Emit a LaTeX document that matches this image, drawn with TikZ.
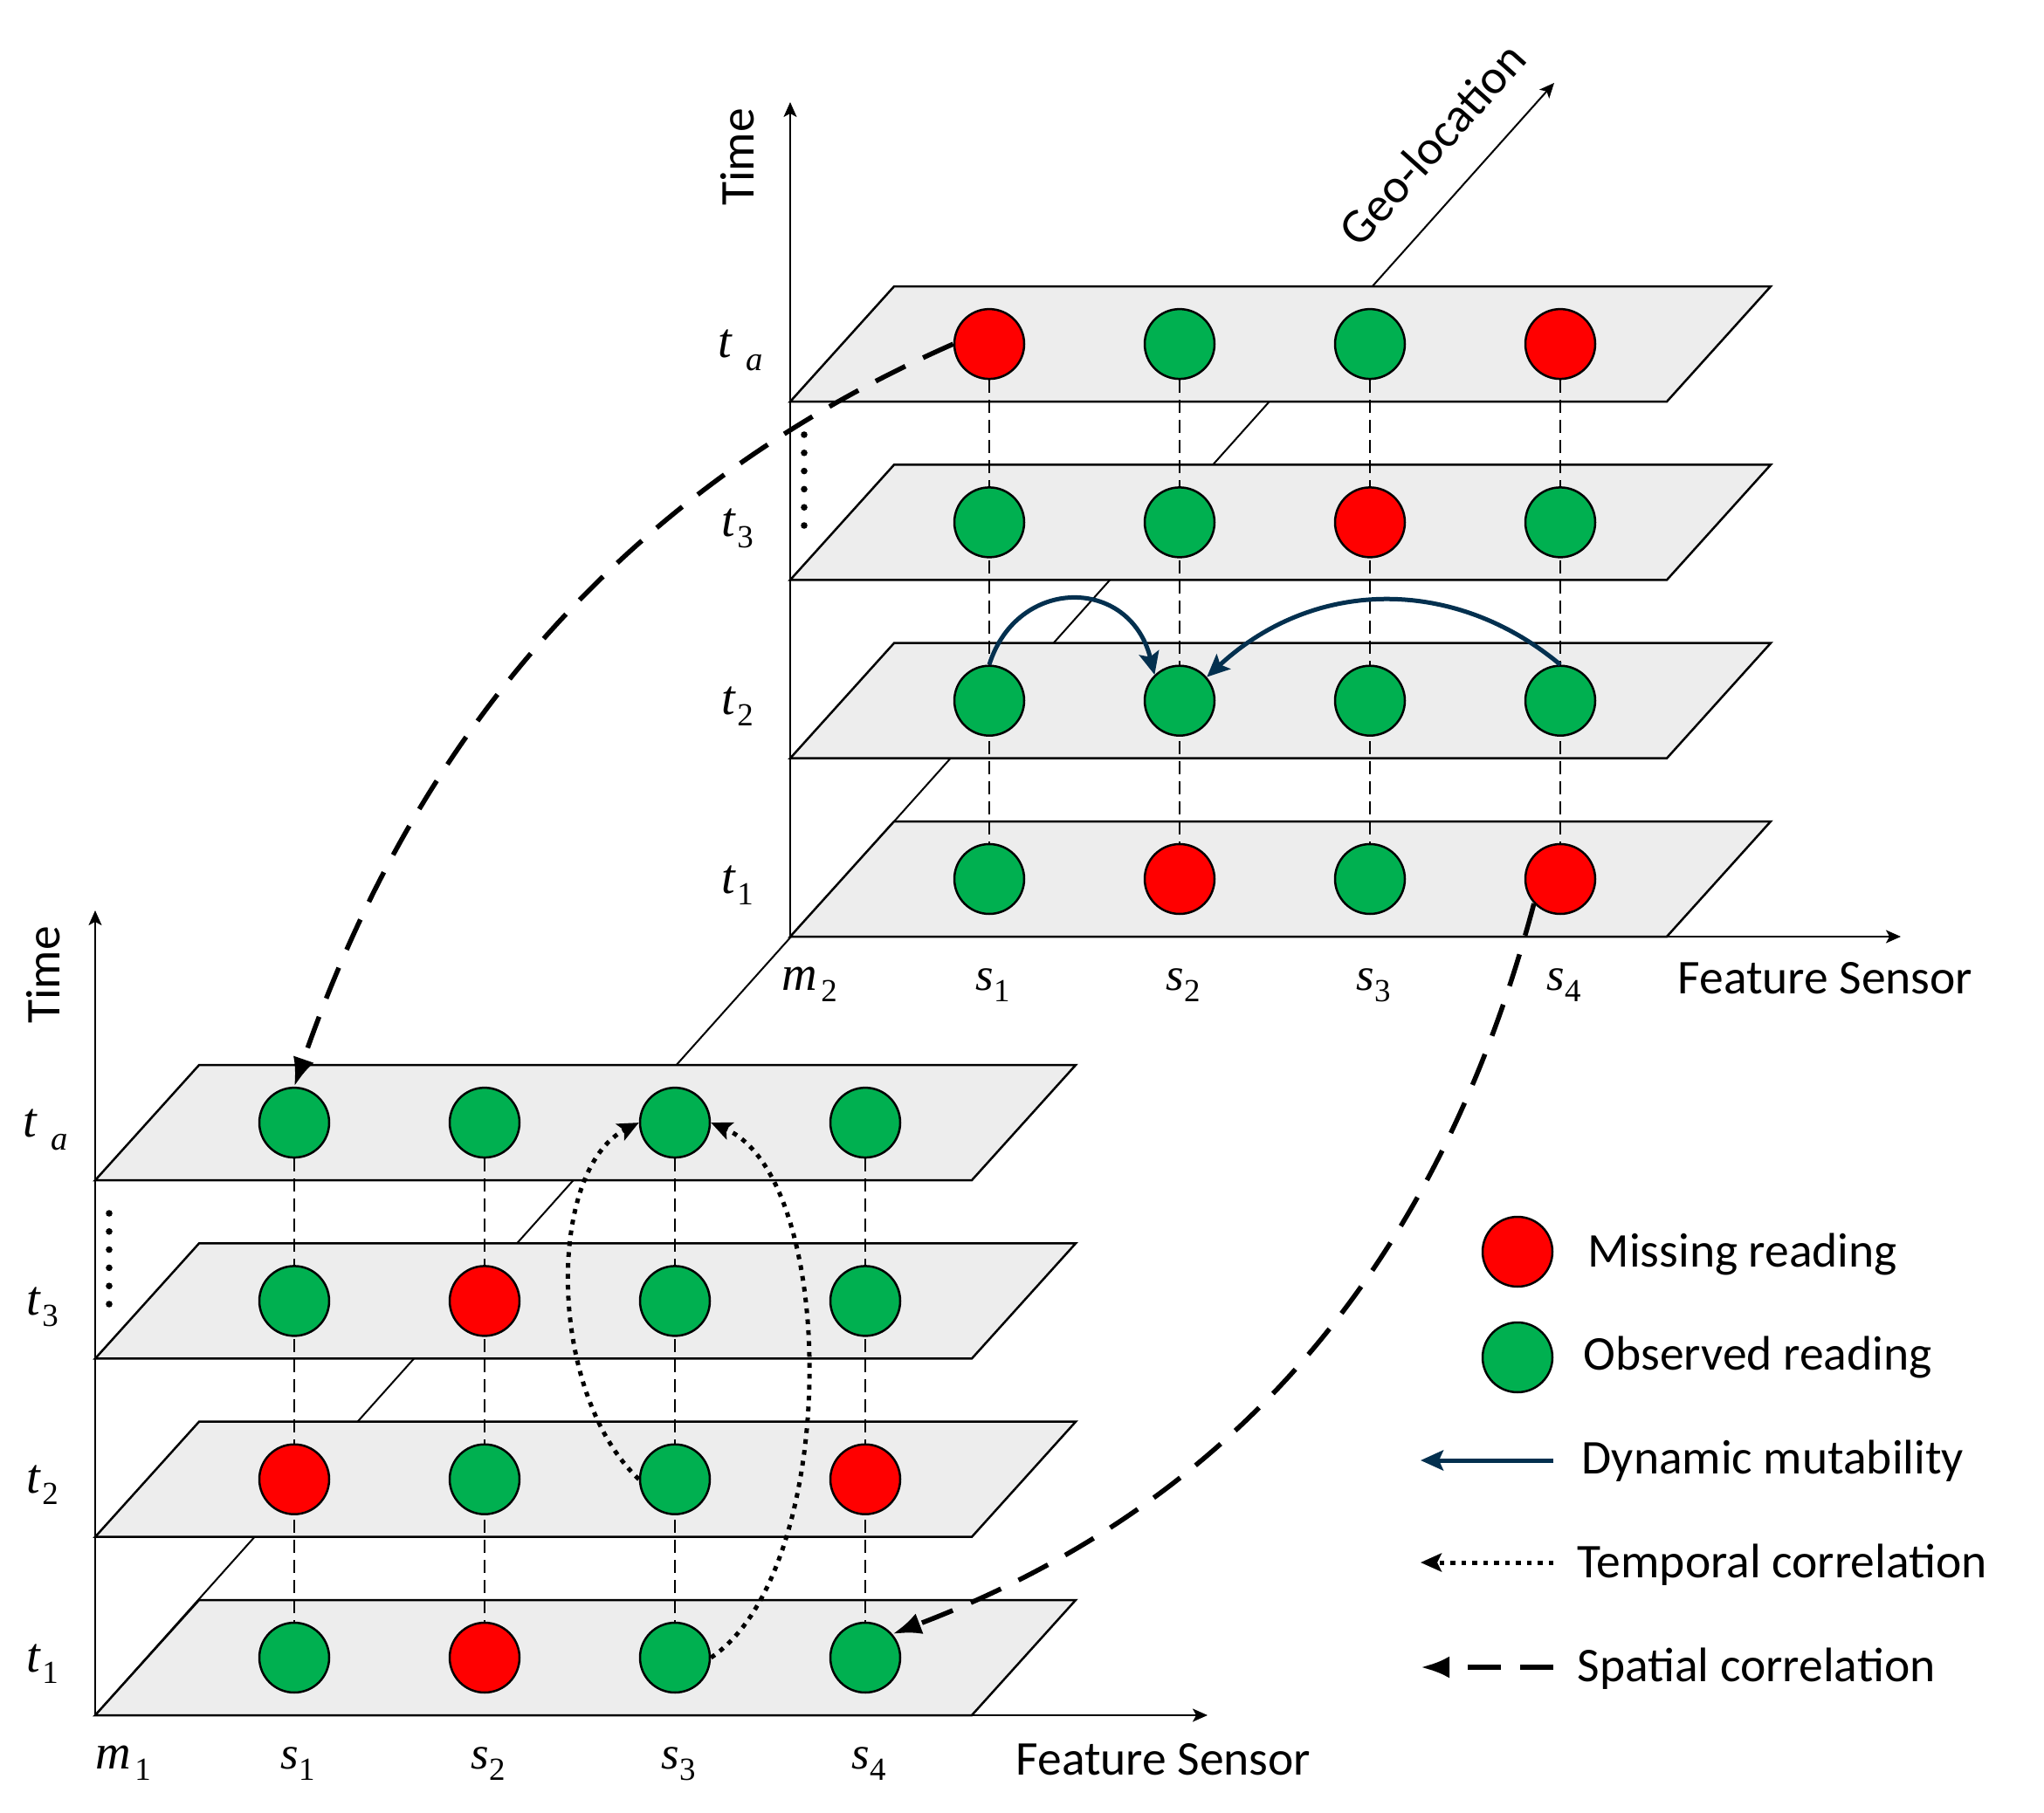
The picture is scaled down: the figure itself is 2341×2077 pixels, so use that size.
\documentclass[tikz,border=0pt]{standalone}
\usepackage{fontspec}
\setmainfont{Liberation Serif}
\newfontfamily\sansf{Carlito}
\usetikzlibrary{arrows.meta}
\definecolor{obsgreen}{HTML}{00B050}
\definecolor{missred}{HTML}{FF0000}
\definecolor{planegray}{HTML}{EDEDED}
\definecolor{dynblue}{HTML}{03304F}
\pgfdeclarelayer{bg}
\pgfdeclarelayer{mid}
\pgfsetlayers{bg,mid,main}
\newcommand\tsub[1]{{\fontsize{16}{16}\selectfont\itshape t}\hspace{0.2mm}\raisebox{-1.3mm}{\fontsize{10.5}{10.5}\selectfont #1}}
\newcommand\tsuba{{\fontsize{16}{16}\selectfont\itshape t}\hspace{1.6mm}\raisebox{-1.5mm}{\fontsize{11}{11}\selectfont\itshape a}}
\newcommand\ssub[1]{{\fontsize{15}{15}\selectfont\itshape s}\raisebox{-1.3mm}{\fontsize{10.5}{10.5}\selectfont #1}}
\newcommand\msub[1]{{\fontsize{16}{16}\selectfont\itshape m}\hspace{0.4mm}\raisebox{-1.3mm}{\fontsize{10.5}{10.5}\selectfont #1}}
\begin{document}
\begin{tikzpicture}[x=0.1mm, y=-0.1mm,
  plane/.style={fill=planegray, draw=black, line width=0.25mm, line join=miter},
  axisline/.style={line width=0.2mm, -{Stealth[length=1.7mm,width=1.5mm,inset=0.4mm]}},
  vdash/.style={line width=0.22mm, dash pattern=on 1.5mm off 0.8mm},
  obs/.style={circle, minimum size=8mm, inner sep=0pt, draw=black, line width=0.25mm, fill=obsgreen},
  miss/.style={circle, minimum size=8mm, inner sep=0pt, draw=black, line width=0.25mm, fill=missred},
  dyn/.style={draw=dynblue, line width=0.5mm, -{Stealth[length=2.6mm,width=2.3mm,inset=0.5mm]}},
  temp/.style={line width=0.5mm, dash pattern=on 0.55mm off 0.7mm, -{Stealth[length=2.4mm,width=2.1mm,inset=0.5mm]}},
  spat/.style={line width=0.55mm, dash pattern=on 3.8mm off 2.25mm, -{Latex[length=3.3mm,width=2.5mm]}},
  sanslab/.style={font={\sansf\fontsize{15.8}{18}\selectfont}, inner sep=0pt},
  mathlab/.style={anchor=base west, inner sep=0pt}
]
\useasboundingbox (0,0) rectangle (2341,2077);
\begin{pgfonlayer}{bg}
  \fill[white] (0,0) rectangle (2341,2077);
  % geo-location axis (behind planes)
  \coordinate (gs) at (109,1965);
  \coordinate (ge) at (1780,95);
  \draw[axisline] (gs) -- (ge);
  % planes
  \foreach \ox/\oy in {905/1073,109/1965}{
    \foreach \r in {0,...,3}{
      \draw[plane] (\ox,{\oy-204.3*\r}) -- ++(1004,0) -- ++(119,-132) -- ++(-1004,0) -- cycle;
    }
  }
  % axes
  \coordinate (O2) at (905,1073);
  \coordinate (T2) at (905,117);
  \coordinate (F2) at (2177,1073);
  \coordinate (O1) at (109,1965);
  \coordinate (T1) at (109,1043);
  \coordinate (F1) at (1383,1965);
  \draw[axisline] (O2) -- (T2);
  \draw[axisline] (O2) -- (F2);
  \draw[axisline] (O1) -- (T1);
  \draw[axisline] (O1) -- (F1);
\end{pgfonlayer}

% circles upper diagram
\foreach \r/\y/\a/\b/\c/\d in {1/1007/obs/miss/obs/miss, 2/802.7/obs/obs/obs/obs, 3/598.4/obs/obs/miss/obs, 4/394.1/miss/obs/obs/miss}{
  \node[\a] (u1\r) at (1133,\y) {};
  \node[\b] (u2\r) at (1351,\y) {};
  \node[\c] (u3\r) at (1569,\y) {};
  \node[\d] (u4\r) at (1787,\y) {};
}
% circles lower diagram
\foreach \r/\y/\a/\b/\c/\d in {1/1899/obs/miss/obs/obs, 2/1694.7/miss/obs/obs/miss, 3/1490.4/obs/miss/obs/obs, 4/1286.1/obs/obs/obs/obs}{
  \node[\a] (l1\r) at (337,\y) {};
  \node[\b] (l2\r) at (555,\y) {};
  \node[\c] (l3\r) at (773,\y) {};
  \node[\d] (l4\r) at (991,\y) {};
}
% vertical dashed links
\begin{pgfonlayer}{mid}
  \foreach \c in {1,2,3,4}{
    \draw[vdash] (u\c4) -- (u\c1);
    \draw[vdash] (l\c4) -- (l\c1);
  }
  \foreach \k in {0,...,5}{
    \fill (921,{498+20.8*\k}) circle (0.38mm);
    \fill (125,{1390+20.8*\k}) circle (0.38mm);
  }
\end{pgfonlayer}

% axis labels
\node[sanslab, rotate=90] (time2) at (845,180) {Time};
\node[sanslab, rotate=90] (time1) at (50,1117) {Time};
\node[sanslab, rotate=48.2] (geo) at (1640,165) {Geo-location};
\node[sanslab, anchor=base west] (feat2) at (1921,1138) {Feature Sensor};
\node[sanslab, anchor=base west] (feat1) at (1163,2033) {Feature Sensor};

% time labels
\node[mathlab] (ut1) at (826,1023) {\tsub{1}};
\node[mathlab] (ut2) at (826,818.7) {\tsub{2}};
\node[mathlab] (ut3) at (826,614.4) {\tsub{3}};
\node[mathlab] (uta) at (822,410) {\tsuba};
\node[mathlab] (lt1) at (30,1915) {\tsub{1}};
\node[mathlab] (lt2) at (30,1710.7) {\tsub{2}};
\node[mathlab] (lt3) at (30,1506.4) {\tsub{3}};
\node[mathlab] (lta) at (26,1302) {\tsuba};

% sensor labels
\node[mathlab] (um) at (895,1134) {\msub{2}};
\node[mathlab] (us1) at (1117,1134) {\ssub{1}};
\node[mathlab] (us2) at (1335,1134) {\ssub{2}};
\node[mathlab] (us3) at (1553,1134) {\ssub{3}};
\node[mathlab] (us4) at (1771,1134) {\ssub{4}};
\node[mathlab] (lm) at (109,2026) {\msub{1}};
\node[mathlab] (ls1) at (321,2026) {\ssub{1}};
\node[mathlab] (ls2) at (539,2026) {\ssub{2}};
\node[mathlab] (ls3) at (757,2026) {\ssub{3}};
\node[mathlab] (ls4) at (975,2026) {\ssub{4}};

% dynamic mutability
\draw[dyn] (u12.north) .. controls (1165,660) and (1294,660) .. (u22.134);
\draw[dyn] (u42.north) .. controls (1667,661) and (1506,661) .. (u22.41);

% temporal correlation
\draw[temp] (l32.west) .. controls (626,1595) and (626,1340) .. (l34.west);
\draw[temp] (l31.east) .. controls (962,1800) and (962,1350) .. (l34.east);

% spatial correlation
\draw[spat] (u14.west) .. controls (695,569) and (467,867) .. (l14.north);
\draw[spat] (u41.223) .. controls (1642,1468) and (1396,1730) .. (l41.41);

% legend
\node[miss] (legm) at (1738,1434) {};
\node[obs] (lego) at (1738,1555) {};
\node[sanslab, anchor=base west] (legmt) at (1818,1451) {Missing reading};
\node[sanslab, anchor=base west] (legot) at (1813,1569) {Observed reading};
\coordinate (ld1) at (1779,1673); \coordinate (ld2) at (1627,1673);
\coordinate (lt1a) at (1779,1790); \coordinate (lt2a) at (1627,1790);
\coordinate (ls1a) at (1779,1910); \coordinate (ls2a) at (1627,1910);
\draw[dyn] (ld1) -- (ld2);
\draw[temp] (lt1a) -- (lt2a);
\draw[spat] (ls1a) -- (ls2a);
\node[sanslab, anchor=base west] (legdt) at (1811,1688) {Dynamic mutability};
\node[sanslab, anchor=base west] (legtt) at (1806,1807) {Temporal correlation};
\node[sanslab, anchor=base west] (legst) at (1806,1926) {Spatial correlation};
\end{tikzpicture}
\end{document}
